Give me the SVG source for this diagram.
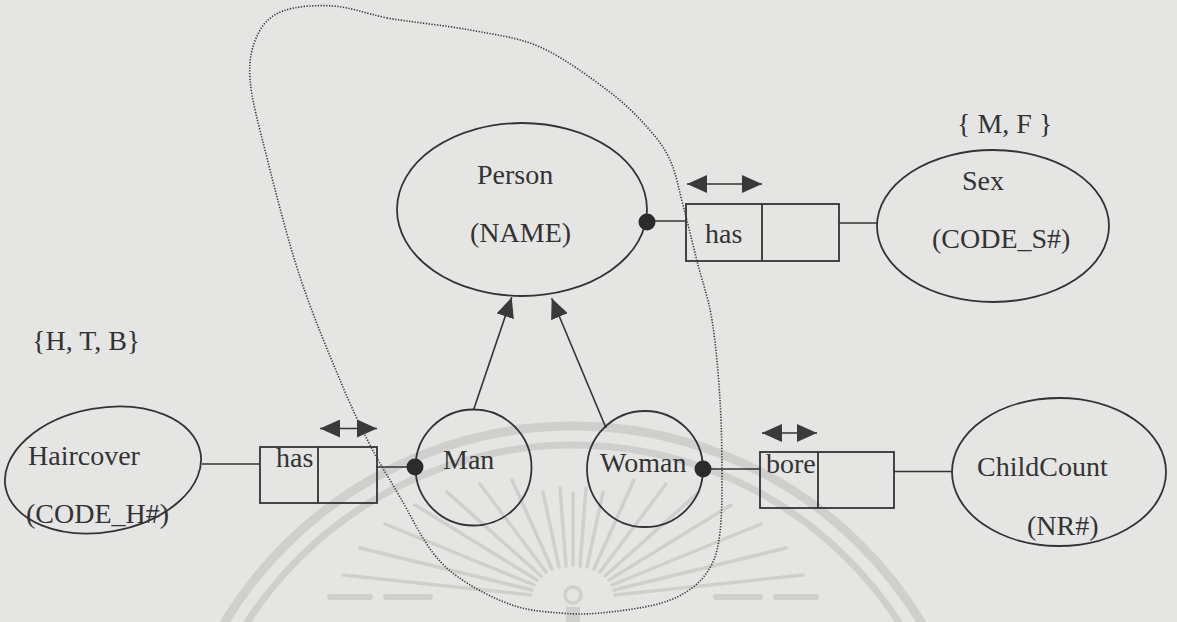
<svg xmlns="http://www.w3.org/2000/svg" width="1177" height="622" viewBox="0 0 1177 622">
  <style>
    .bg { fill: #e5e6e3; }
    .wm { fill: none; stroke: #cfd0cd; }
    .shape { fill: none; stroke: #333; stroke-width: 1.8; }
    .line { fill: none; stroke: #333; stroke-width: 1.6; }
    .dot { fill: #2b2b2b; }
    .loop { fill: none; stroke: #3a3a3a; stroke-width: 1.6; stroke-dasharray: 1.3 1.5; }
    text { font-family: "Liberation Serif", "Times New Roman", serif; font-size: 28px; fill: #333; }
  </style>
  <defs>
    <marker id="tri" viewBox="0 0 20 18" refX="20" refY="9" markerWidth="20" markerHeight="18" markerUnits="userSpaceOnUse" orient="auto-start-reverse">
      <path d="M0,0 L20,9 L0,18 Z" fill="#3a3a3a"/>
    </marker>
  </defs>

  <rect class="bg" x="0" y="0" width="1177" height="622"/>

  <!-- faint seal printed behind the drawing -->
  <g id="seal">
    <circle class="wm" cx="573" cy="833" r="407" stroke-width="9"/>
    <circle class="wm" cx="573" cy="833" r="388" stroke-width="7"/>
    <g class="wm" stroke-width="3.5" stroke-linecap="round">
      <line x1="531" y1="595" x2="343" y2="575"/>
      <line x1="532" y1="590" x2="360" y2="548"/>
      <line x1="534" y1="585" x2="385" y2="524"/>
      <line x1="537" y1="580" x2="415" y2="505"/>
      <line x1="541" y1="576" x2="447" y2="492"/>
      <line x1="546" y1="572" x2="480" y2="484"/>
      <line x1="552" y1="569" x2="512" y2="480"/>
      <line x1="559" y1="567" x2="543" y2="492"/>
      <line x1="566" y1="566" x2="560" y2="488"/>
      <line x1="573" y1="565" x2="573" y2="493"/>
      <line x1="580" y1="566" x2="586" y2="488"/>
      <line x1="587" y1="567" x2="603" y2="492"/>
      <line x1="594" y1="569" x2="634" y2="480"/>
      <line x1="600" y1="572" x2="666" y2="484"/>
      <line x1="605" y1="576" x2="699" y2="492"/>
      <line x1="609" y1="580" x2="731" y2="505"/>
      <line x1="612" y1="585" x2="761" y2="524"/>
      <line x1="614" y1="590" x2="786" y2="548"/>
      <line x1="615" y1="595" x2="803" y2="575"/>
      <line x1="330" y1="597" x2="370" y2="597" stroke-width="6"/>
      <line x1="386" y1="597" x2="430" y2="597" stroke-width="6"/>
      <line x1="716" y1="597" x2="760" y2="597" stroke-width="6"/>
      <line x1="776" y1="597" x2="816" y2="597" stroke-width="6"/>
    </g>
    <circle class="wm" cx="573" cy="595" r="8" stroke-width="3.5"/>
    <rect x="566" y="607" width="14" height="15" fill="#cfd0cd"/>
  </g>

  <!-- dotted boundary enclosing the Person subtype cluster -->
  <path id="cluster" class="loop" d="M387,18 C409.8,22 444.5,25.2 470,30 C495.5,34.8 517.2,37 540,47 C562.8,57 589.2,76.7 607,90 C624.8,103.3 636.5,115.3 647,127 C657.5,138.7 664,147 670,160 C676,173 678.5,188.2 683,205 C687.5,221.8 692.2,241.8 697,261 C701.8,280.2 708.2,296.8 712,320 C715.8,343.2 718.3,373.3 720,400 C721.7,426.7 722,458 722,480 C722,502 721.7,518 720,532 C718.3,546 716.7,554.7 712,564 C707.3,573.3 701,581.3 692,588 C683,594.7 673.3,599.8 658,604 C642.7,608.2 616.3,611.5 600,613 C583.7,614.5 574.2,614.2 560,613 C545.8,611.8 530.5,611 515,606 C499.5,601 480.7,591.8 467,583 C453.3,574.2 444.2,567.3 433,553 C421.8,538.7 410.5,515 400,497 C389.5,479 380,464.5 370,445 C360,425.5 351.7,408 340,380 C328.3,352 312.2,314 300,277 C287.8,240 275.3,191 267,158 C258.7,125 251.5,99.7 250,79 C248.5,58.3 252.5,45.3 258,34 C263.5,22.7 270.5,15.7 283,11 C295.5,6.3 315.7,4.8 333,6 C350.3,7.2 364.2,13 387,18 Z"/>

  <!-- connectors -->
  <g id="connectors">
    <line class="line" x1="647" y1="221" x2="686" y2="221"/>
    <line class="line" x1="839" y1="223" x2="877" y2="223"/>
    <line class="line" x1="202" y1="464" x2="260" y2="464"/>
    <line class="line" x1="377" y1="467" x2="415" y2="467"/>
    <line class="line" x1="703" y1="469" x2="760" y2="469"/>
    <line class="line" x1="894" y1="471.5" x2="952" y2="471.5"/>
    <line class="line" x1="473.5" y1="410" x2="511.7" y2="297.3" marker-end="url(#tri)"/>
    <line class="line" x1="606" y1="428" x2="551.7" y2="298.3" marker-end="url(#tri)"/>
    <line class="line" x1="687" y1="184" x2="762" y2="184" marker-start="url(#tri)" marker-end="url(#tri)"/>
    <line class="line" x1="320" y1="428.5" x2="377" y2="428.5" marker-start="url(#tri)" marker-end="url(#tri)"/>
    <line class="line" x1="762" y1="433" x2="817" y2="433" marker-start="url(#tri)" marker-end="url(#tri)"/>
  </g>

  <g id="person">
    <ellipse class="shape" cx="522" cy="209.5" rx="125" ry="86.5"/>
    <text x="477" y="184">Person</text>
    <text x="470" y="242">(NAME)</text>
    <circle class="dot" cx="647" cy="222" r="8.5"/>
  </g>

  <g id="sex">
    <ellipse class="shape" cx="993" cy="226" rx="116" ry="76"/>
    <text x="957" y="133">{ M, F }</text>
    <text x="962" y="190">Sex</text>
    <text x="932" y="248">(CODE_S#)</text>
  </g>

  <g id="rel-person-sex">
    <rect class="shape" x="686" y="204" width="153" height="57"/>
    <line class="shape" x1="762" y1="204" x2="762" y2="261"/>
    <text x="705" y="243">has</text>
  </g>

  <g id="haircover">
    <ellipse class="shape" cx="103" cy="470" rx="99" ry="62" transform="rotate(-10 103 470)"/>
    <text x="32" y="350">{H, T, B}</text>
    <text x="28" y="465">Haircover</text>
    <text x="26" y="523">(CODE_H#)</text>
  </g>

  <g id="rel-man-haircover">
    <rect class="shape" x="260" y="447" width="117" height="56"/>
    <line class="shape" x1="318" y1="447" x2="318" y2="503"/>
    <text x="276" y="467">has</text>
  </g>

  <g id="man">
    <circle class="shape" cx="473.5" cy="467.5" r="58"/>
    <text x="443" y="469">Man</text>
    <circle class="dot" cx="415" cy="467" r="8.5"/>
  </g>

  <g id="woman">
    <circle class="shape" cx="645" cy="469" r="58"/>
    <text x="600" y="472">Woman</text>
    <circle class="dot" cx="703" cy="469" r="8.5"/>
  </g>

  <g id="rel-woman-childcount">
    <rect class="shape" x="760" y="452" width="134" height="56"/>
    <line class="shape" x1="818" y1="452" x2="818" y2="508"/>
    <text x="766" y="473">bore</text>
  </g>

  <g id="childcount">
    <ellipse class="shape" cx="1059" cy="472" rx="107" ry="74"/>
    <text x="977" y="476">ChildCount</text>
    <text x="1027" y="535">(NR#)</text>
  </g>
</svg>
